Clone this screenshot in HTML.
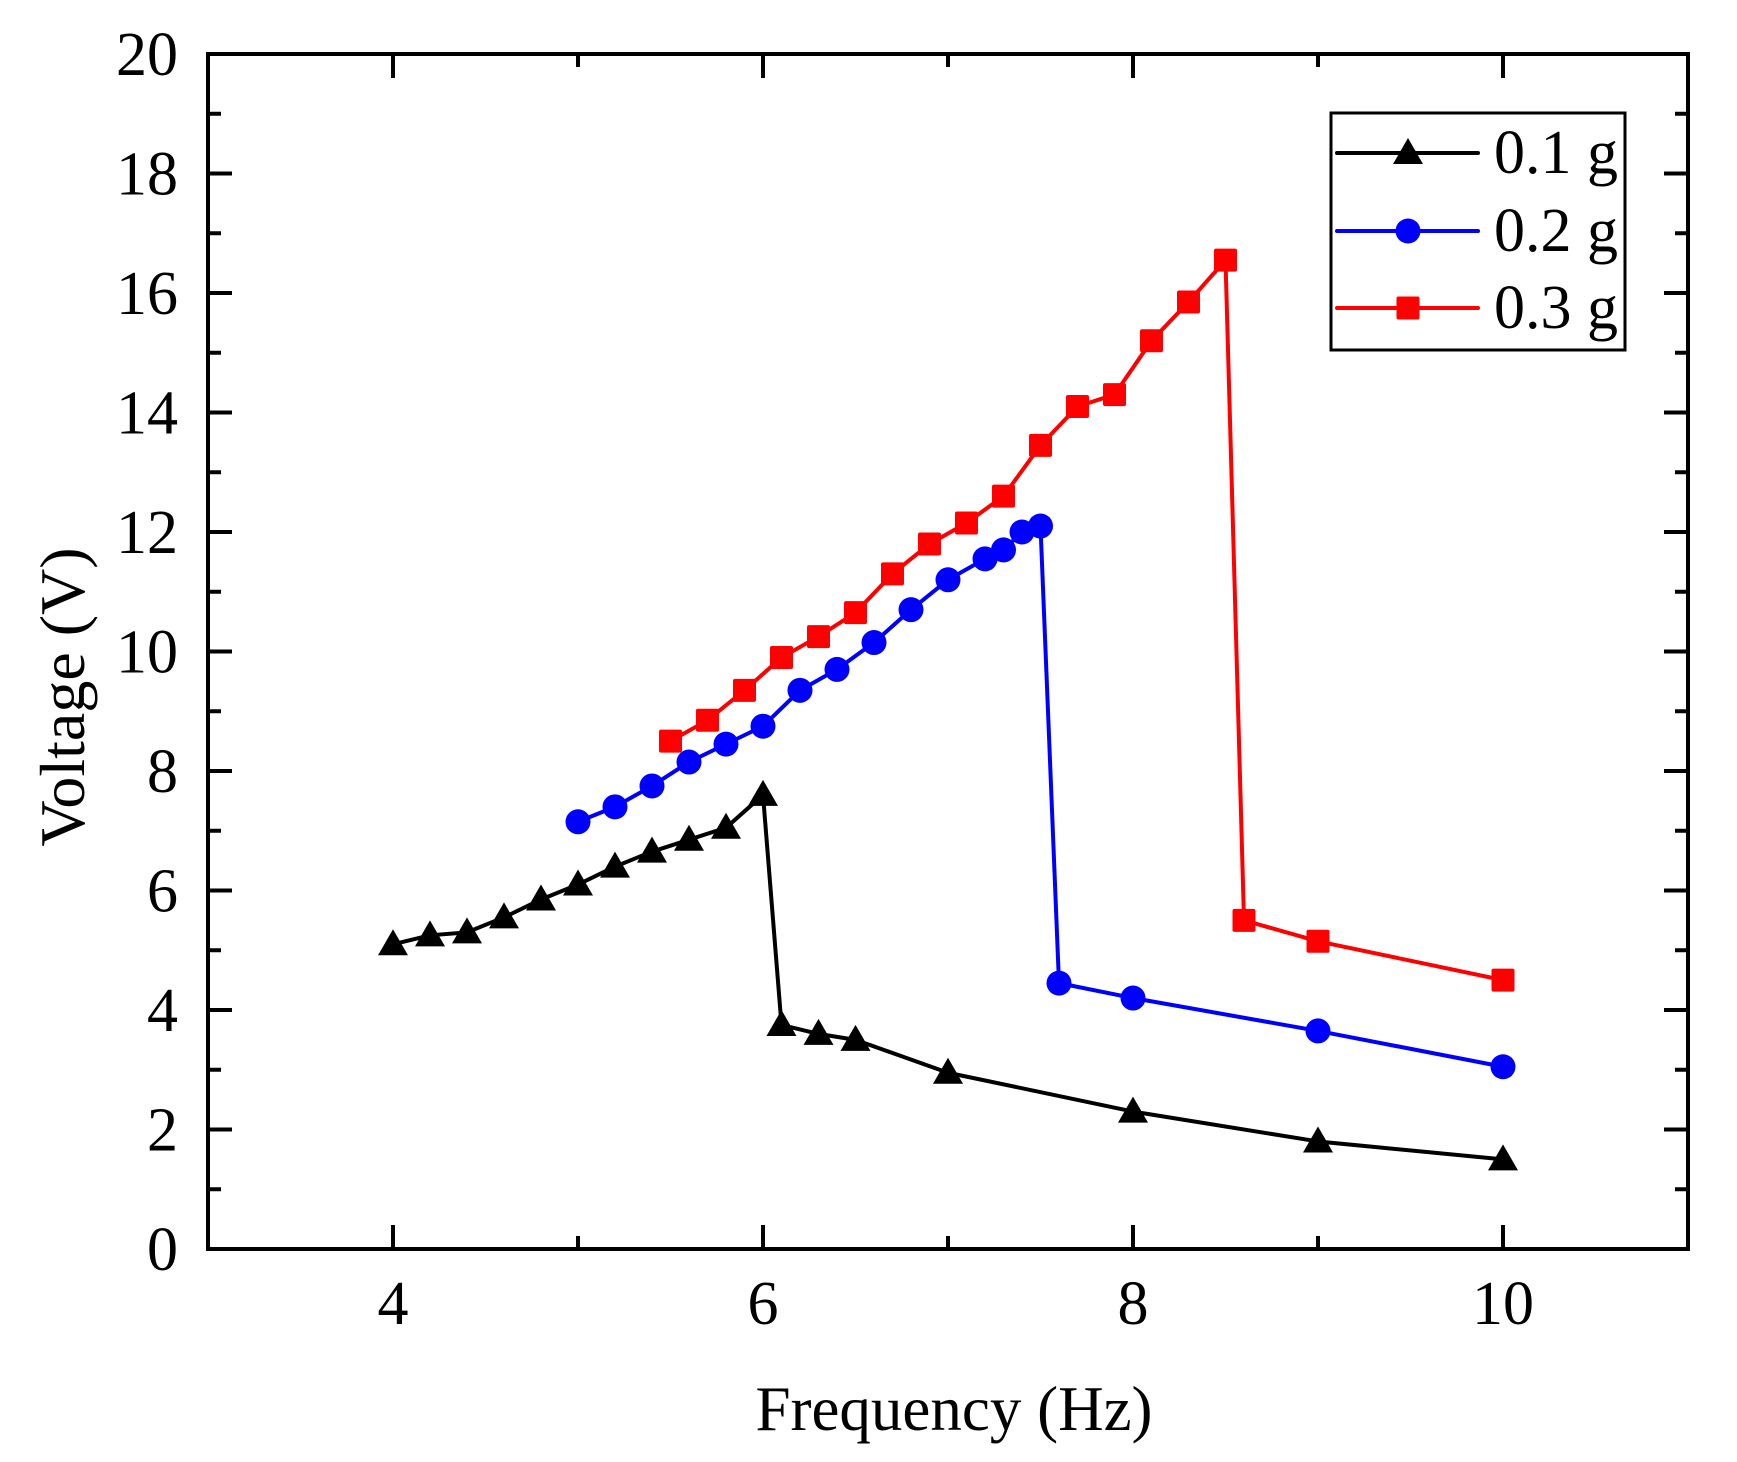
<!DOCTYPE html>
<html><head><meta charset="utf-8"><style>
html,body{margin:0;padding:0;background:#fff;}
svg{display:block;font-family:"Liberation Serif",serif;}
</style></head><body>
<svg id="s" width="1737" height="1462" viewBox="0 0 1737 1462" xmlns="http://www.w3.org/2000/svg">
<rect width="1737" height="1462" fill="#fff"/>
<g id="plot"></g>
<rect x="208" y="54" width="1480" height="1195" fill="none" stroke="#000" stroke-width="4"/>
<g id="ticks" stroke="#000" stroke-width="4"></g>
<g id="labels" font-size="62" fill="#000"></g>
<text x="954" y="1430" font-size="63" text-anchor="middle">Frequency (Hz)</text>
<text transform="translate(84,697) rotate(-90)" font-size="64" text-anchor="middle">Voltage (V)</text>
<rect x="1331" y="113" width="294" height="237" fill="#fff" stroke="#000" stroke-width="3"/>
<g id="legend"></g>
</svg>
<script>
const X=v=>208+(v-3)*185, Y=v=>1249-v*59.75;
const ns="http://www.w3.org/2000/svg";
function el(p,t,a){const e=document.createElementNS(ns,t);for(const k in a)e.setAttribute(k,a[k]);p.appendChild(e);return e;}
const tk=document.getElementById('ticks'),lb=document.getElementById('labels');
for(let i=0;i<=20;i++){const y=Y(i),L=i%2==0?24:13;
 el(tk,'line',{x1:208,y1:y,x2:208+L,y2:y});el(tk,'line',{x1:1688,y1:y,x2:1688-L,y2:y});
 if(i%2==0){const t=el(lb,'text',{x:178,y:y+21,'text-anchor':'end'});t.textContent=i;}}
for(let v=4;v<=10;v++){const x=X(v),L=(v%2==0)?24:13;
 el(tk,'line',{x1:x,y1:1249,x2:x,y2:1249-L});el(tk,'line',{x1:x,y1:54,x2:x,y2:54+L});
 if(v%2==0){const t=el(lb,'text',{x:x,y:1324,'text-anchor':'middle'});t.textContent=v;}}
const data=[
 ['#000','tri',[[4,5.1],[4.2,5.25],[4.4,5.3],[4.6,5.55],[4.8,5.85],[5,6.1],[5.2,6.4],[5.4,6.65],[5.6,6.85],[5.8,7.05],[6,7.6],[6.1,3.75],[6.3,3.6],[6.5,3.5],[7,2.95],[8,2.3],[9,1.8],[10,1.5]]],
 ['#0000ff','cir',[[5,7.15],[5.2,7.4],[5.4,7.75],[5.6,8.15],[5.8,8.45],[6,8.75],[6.2,9.35],[6.4,9.7],[6.6,10.15],[6.8,10.7],[7,11.2],[7.2,11.55],[7.3,11.7],[7.4,12.0],[7.5,12.1],[7.6,4.45],[8,4.2],[9,3.65],[10,3.05]]],
 ['#ff0000','sq',[[5.5,8.5],[5.7,8.85],[5.9,9.35],[6.1,9.9],[6.3,10.25],[6.5,10.65],[6.7,11.3],[6.9,11.8],[7.1,12.15],[7.3,12.6],[7.5,13.45],[7.7,14.1],[7.9,14.3],[8.1,15.2],[8.3,15.85],[8.5,16.55],[8.6,5.5],[9,5.15],[10,4.5]]]
];
function mk(g,type,c,x,y){
 if(type=='tri')el(g,'polygon',{points:`${x-15},${y+11} ${x+15},${y+11} ${x},${y-15}`,fill:c});
 else if(type=='cir')el(g,'circle',{cx:x,cy:y,r:12.5,fill:c});
 else el(g,'rect',{x:x-11.5,y:y-11.5,width:23,height:23,rx:2,fill:c});
}
const pg=document.getElementById('plot'),lg=document.getElementById('legend');
data.forEach(([c,t,pts],i)=>{
 el(pg,'polyline',{points:pts.map(p=>X(p[0])+','+Y(p[1])).join(' '),fill:'none',stroke:c,'stroke-width':4,'stroke-linejoin':'round'});
 pts.forEach(p=>mk(pg,t,c,X(p[0]),Y(p[1])));
 const y=[153,231,308][i];
 el(lg,'line',{x1:1337,y1:y,x2:1478,y2:y,stroke:c,'stroke-width':4,'stroke-linecap':'round'});
 mk(lg,t,c,1408,y);
 const tx=el(lg,'text',{x:1494,y:y+20,'font-size':62});tx.textContent=['0.1 g','0.2 g','0.3 g'][i];
});
</script>
</body></html>
